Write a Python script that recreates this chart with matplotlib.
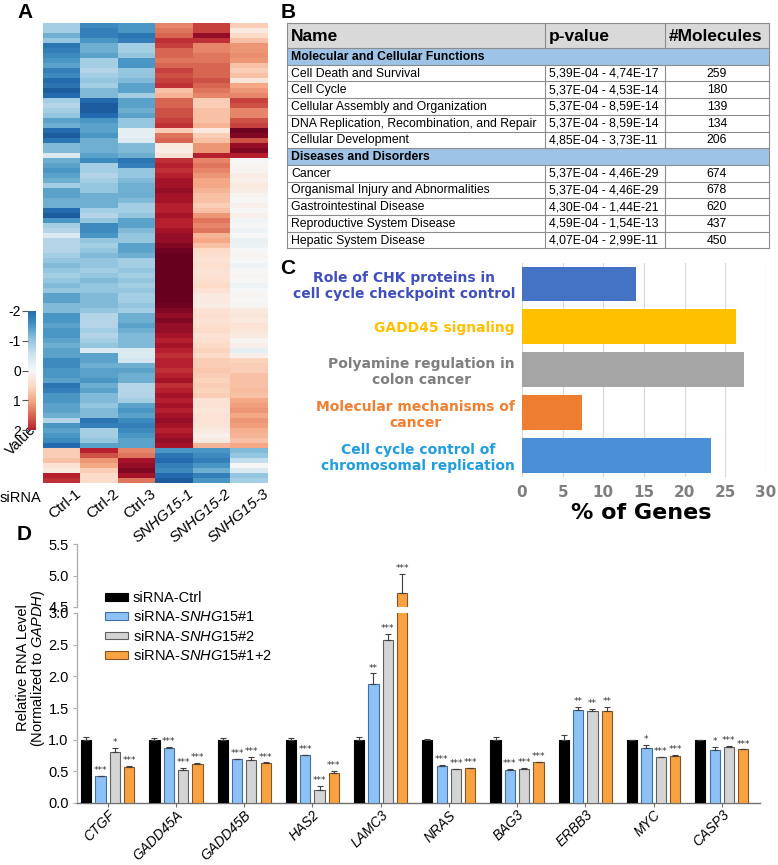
import numpy as np
import matplotlib
matplotlib.use('Agg')
import matplotlib.pyplot as plt
from matplotlib.patches import Rectangle, Patch
from matplotlib.colors import Normalize
from matplotlib.transforms import offset_copy

plt.rcParams['font.family'] = ['Liberation Sans', 'DejaVu Sans']
plt.rcParams['mathtext.fontset'] = 'custom'
plt.rcParams['mathtext.rm'] = 'Liberation Sans'
plt.rcParams['mathtext.it'] = 'Liberation Sans:italic'
plt.rcParams['mathtext.bf'] = 'Liberation Sans:bold'

# ---------------- data ----------------
hm_labels = ['Ctrl-1', 'Ctrl-2', 'Ctrl-3', 'SNHG15-1', 'SNHG15-2', 'SNHG15-3']
ctrl1 = [-0.7,-0.7,-1.0,-0.8,-1.5,-1.4,-1.3,-1.2,-1.1,-1.4,
         -1.3,-1.6,-1.5,-1.7,-1.6,-0.7,-0.6,-0.7,-0.8,-1.1,
         -1.0,-1.6,-1.7,-1.5,-0.9,-0.9,-0.3,-1.0,-1.1,-1.2,
         -1.1,-1.0,-0.7,-1.1,-1.1,-1.0,-1.0,-1.6,-1.7,-1.2,
         -0.7,-0.6,-0.3,-0.6,-0.6,-0.6,-0.7,-0.8,-0.9,-0.8,
         -0.7,-0.8,-0.9,-0.8,-1.1,-1.1,-0.9,-0.9,-1.2,-1.2,
         -1.1,-1.2,-1.2,-1.1,-1.0,-1.1,-1.1,-1.3,-1.3,-1.2,
         -1.2,-1.1,-1.5,-1.4,-1.2,-1.2,-1.1,-1.1,-1.0,-0.6,
         -1.2,-1.1,-1.2,-1.3,-1.6,
         0.5,0.5,0.6,0.3,0.2,1.6,1.5]
ctrl2 = [-1.3,-1.4,-1.4,-1.2,-1.0,-1.0,-1.1,-0.7,-0.7,-0.6,
         -0.7,-0.8,-0.7,-0.9,-0.9,-1.6,-1.7,-1.7,-1.6,-1.2,
         -1.1,-1.1,-1.2,-1.0,-1.0,-1.0,-1.1,-1.3,-0.7,-0.7,
         -0.6,-0.7,-0.8,-0.8,-1.0,-1.0,-1.0,-0.7,-0.6,-0.8,
         -1.3,-1.3,-1.2,-0.8,-0.7,-0.8,-0.9,-0.8,-0.8,-0.7,
         -0.8,-0.9,-0.8,-0.8,-0.9,-0.9,-0.9,-0.8,-0.6,-0.6,
         -0.6,-0.7,-0.6,-0.7,-0.8,-0.3,-1.1,-1.1,-1.0,-1.1,
         -1.1,-1.2,-1.0,-1.1,-0.9,-0.9,-0.8,-0.9,-0.9,-1.5,
         -1.4,-0.7,-0.7,-0.8,-1.1,
         1.6,1.3,0.9,0.8,0.5,0.4,0.4]
ctrl3 = [-1.2,-1.2,-1.5,-1.4,-0.7,-0.7,-0.8,-1.2,-1.2,-0.8,
         -0.8,-0.9,-1.1,-1.1,-0.7,-1.1,-1.1,-1.0,-1.1,-0.8,
         -0.8,-0.2,-0.2,-0.3,-0.9,-0.9,-1.0,-1.5,-1.4,-0.8,
         -0.8,-0.9,-1.0,-1.0,-1.0,-0.9,-0.7,-0.7,-0.8,-1.1,
         -1.1,-0.9,-0.8,-0.8,-1.1,-1.1,-1.0,-0.7,-0.7,-0.8,
         -0.7,-0.8,-0.7,-0.8,-0.7,-0.7,-0.8,-0.7,-1.0,-1.0,
         -1.1,-1.0,-0.9,-0.9,-0.9,-0.3,-0.3,-0.4,-1.0,-1.1,
         -1.0,-1.0,-0.6,-0.6,-0.6,-0.7,-1.1,-1.2,-1.1,-1.3,
         -1.4,-1.3,-1.2,-1.1,-1.1,
         1.0,1.1,1.7,1.8,1.9,1.7,1.1]
snhg1 = [1.0,1.1,1.2,1.5,1.4,1.2,1.2,1.1,1.2,1.4,
         1.3,1.4,1.5,0.6,0.7,1.2,1.2,1.3,1.3,1.4,
         1.5,0.5,1.1,1.2,0.2,0.15,0.3,1.5,1.6,1.5,
         1.6,1.7,1.7,1.8,1.7,1.7,1.6,1.6,1.7,1.6,
         1.6,1.7,1.8,1.8,1.9,2.0,2.1,2.1,2.2,2.1,
         2.2,2.2,2.1,2.2,2.2,2.1,2.0,1.9,1.8,1.9,
         1.8,1.8,1.7,1.6,1.7,1.6,1.5,1.6,1.6,1.5,
         1.6,1.7,1.5,1.6,1.7,1.6,1.7,1.6,1.7,1.8,
         1.7,1.6,1.7,1.8,1.7,
         -1.2,-1.5,-1.6,-1.4,-1.3,-1.6,-1.7]
snhg2 = [1.4,1.4,1.8,1.5,1.0,1.0,1.1,1.1,1.2,1.2,
         1.2,1.3,1.2,1.1,1.0,0.5,0.5,0.6,0.6,0.6,
         0.7,0.2,0.5,0.6,0.9,0.9,1.6,1.0,1.1,1.0,
         0.9,0.8,0.8,0.7,0.6,0.6,0.5,0.6,0.9,1.1,
         1.0,1.1,0.7,0.8,0.6,0.4,0.35,0.3,0.35,0.3,
         0.3,0.35,0.4,0.3,0.2,0.2,0.15,0.3,0.35,0.3,
         0.35,0.4,0.3,0.35,0.4,0.45,0.4,0.5,0.5,0.55,
         0.5,0.45,0.5,0.45,0.5,0.3,0.3,0.25,0.3,0.3,
         0.25,0.2,0.1,0.2,0.7,
         -1.2,-1.3,-1.4,-1.2,-1.0,-1.4,-1.2]
snhg3 = [0.5,0.2,0.4,0.6,0.9,0.9,0.95,0.9,0.6,0.5,
         0.6,0.25,0.8,0.9,1.0,1.4,1.3,1.0,1.0,1.3,
         1.4,2.0,1.9,1.3,1.8,1.9,1.6,0.0,0.05,0.05,
         0.15,0.1,0.2,0.15,0.05,0.0,0.1,0.0,0.1,-0.05,
         0.0,-0.1,0.0,-0.15,-0.1,0.0,0.05,0.0,-0.1,0.0,
         0.05,0.0,-0.1,0.0,0.05,0.0,0.05,0.2,0.25,0.2,
         0.3,0.25,0.2,0.05,0.1,-0.2,0.1,0.45,0.5,0.5,
         0.6,0.6,0.6,0.65,0.6,0.8,0.85,0.9,0.8,0.9,
         0.85,0.75,0.7,0.6,0.8,
         -0.9,-0.8,-0.5,0.0,-0.3,-0.8,-0.7]
cbar_ticks = [-2, -1, 0, 1, 2]

tbl_header = ['Name', 'p-value', '#Molecules']
tbl_sections = ['Molecular and Cellular Functions', 'Diseases and Disorders']
tbl_names = [['Cell Death and Survival', 'Cell Cycle', 'Cellular Assembly and Organization',
              'DNA Replication, Recombination, and Repair', 'Cellular Development'],
             ['Cancer', 'Organismal Injury and Abnormalities', 'Gastrointestinal Disease',
              'Reproductive System Disease', 'Hepatic System Disease']]
tbl_pvals = [['5,39E-04 - 4,74E-17', '5,37E-04 - 4,53E-14', '5,37E-04 - 8,59E-14',
              '5,37E-04 - 8,59E-14', '4,85E-04 - 3,73E-11'],
             ['5,37E-04 - 4,46E-29', '5,37E-04 - 4,46E-29', '4,30E-04 - 1,44E-21',
              '4,59E-04 - 1,54E-13', '4,07E-04 - 2,99E-11']]
tbl_mols = [['259', '180', '139', '134', '206'], ['674', '678', '620', '437', '450']]

pathways = ['Role of CHK proteins in\ncell cycle checkpoint control', 'GADD45 signaling',
            'Polyamine regulation in\ncolon cancer', 'Molecular mechanisms of\ncancer',
            'Cell cycle control of\nchromosomal replication']
pct_genes = [14.0, 26.3, 27.3, 7.4, 23.2]
c_ticks = [0, 5, 10, 15, 20, 25, 30]

genes = ['CTGF', 'GADD45A', 'GADD45B', 'HAS2', 'LAMC3', 'NRAS', 'BAG3', 'ERBB3', 'MYC', 'CASP3']
series_names = ['siRNA-Ctrl', 'siRNA-$\\mathit{SNHG15}$#1', 'siRNA-$\\mathit{SNHG15}$#2',
                'siRNA-$\\mathit{SNHG15}$#1+2']
ctrl_vals = [1.0, 1.0, 1.0, 1.0, 1.0, 1.0, 1.0, 1.0, 1.0, 1.0]
ctrl_err = [0.04, 0.02, 0.02, 0.02, 0.05, 0.01, 0.05, 0.07, 0.0, 0.0]
si1_vals = [0.42, 0.87, 0.69, 0.755, 1.875, 0.59, 0.52, 1.47, 0.87, 0.83]
si1_err = [0.01, 0.01, 0.01, 0.01, 0.17, 0.01, 0.01, 0.05, 0.04, 0.05]
si2_vals = [0.81, 0.52, 0.68, 0.21, 2.575, 0.53, 0.54, 1.45, 0.73, 0.89]
si2_err = [0.06, 0.04, 0.05, 0.06, 0.10, 0.01, 0.02, 0.04, 0.0, 0.01]
si12_vals = [0.57, 0.62, 0.63, 0.47, 4.73, 0.55, 0.64, 1.45, 0.745, 0.845]
si12_err = [0.01, 0.01, 0.01, 0.03, 0.29, 0.01, 0.01, 0.07, 0.01, 0.0]
ctrl_stars = ['', '', '', '', '', '', '', '', '', '']
si1_stars = ['***', '***', '***', '***', '**', '***', '***', '**', '*', '*']
si2_stars = ['*', '***', '***', '***', '***', '***', '***', '**', '***', '***']
si12_stars = ['***', '***', '***', '***', '***', '***', '***', '**', '***', '***']
d_low_ticks = [0.0, 0.5, 1.0, 1.5, 2.0, 2.5, 3.0]
d_high_ticks = [4.5, 5.0, 5.5]

# ---------------- figure ----------------
W, H = 778, 865
fig = plt.figure(figsize=(W / 100, H / 100), dpi=100)


def box(x0, y0, x1, y1):
    return [x0 / W, 1 - y1 / H, (x1 - x0) / W, (y1 - y0) / H]


ov = fig.add_axes([0, 0, 1, 1])
ov.set_xlim(0, W)
ov.set_ylim(H, 0)
ov.axis('off')
ov.patch.set_visible(False)

# panel letters
for lt, (px, py) in zip('ABCD', [(17, 13), (281, 12), (280, 269), (17, 535)]):
    ov.text(px, py, lt, fontsize=15, fontweight='bold', ha='left', va='center')

# ---------------- Panel A ----------------
cmap = plt.get_cmap('RdBu_r')
norm = Normalize(-2.05, 2.05)
hm = np.array([ctrl1, ctrl2, ctrl3, snhg1, snhg2, snhg3]).T
axA = fig.add_axes(box(43, 23, 268, 483))
axA.imshow(hm, aspect='auto', cmap=cmap, norm=norm, interpolation='nearest')
axA.set_xticks([])
axA.set_yticks([])
for s in axA.spines.values():
    s.set_visible(False)
tr = offset_copy(axA.transData, fig=fig, x=13, y=-4, units='dots')
for j, lab in enumerate(hm_labels):
    axA.text(j, hm.shape[0] - 0.5, lab, transform=tr, rotation=40, ha='right', va='top',
             rotation_mode='anchor', fontsize=11,
             fontstyle='italic' if lab.startswith('SNHG') else 'normal')
ov.text(0, 498, 'siRNA', fontsize=10.5, ha='left', va='center')

axCB = fig.add_axes(box(28, 311, 36, 430))
grad = np.linspace(-2, 2, 200)[:, None]
axCB.imshow(grad, aspect='auto', cmap=cmap, norm=Normalize(-2.6, 2.6), extent=[0, 1, 2, -2])
axCB.set_xticks([])
axCB.set_yticks(cbar_ticks)
axCB.set_yticklabels([str(t) for t in cbar_ticks])
axCB.tick_params(axis='y', length=4, width=0.8, labelsize=10, pad=1, color='#555555')
for s in axCB.spines.values():
    s.set_visible(False)
ov.text(21, 440, 'Value', rotation=45, fontsize=10.5, ha='center', va='center')

# ---------------- Panel B (table) ----------------
tx = [287, 545, 665, 769]
ty0, hdr_h, row_h = 23, 25, 16.7
line_c = '#8c8c8c'
ov.add_patch(Rectangle((tx[0], ty0), tx[3] - tx[0], hdr_h, facecolor='#d9d9d9',
                       edgecolor='none'))
for k, h in enumerate(tbl_header):
    xx = tx[k] + 4
    ov.text(xx, ty0 + hdr_h / 2 + 1, h, fontsize=12.5, fontweight='bold', ha='left',
            va='center')
y = ty0 + hdr_h
hlines = [ty0, y]
for sec, names, pv, mols in zip(tbl_sections, tbl_names, tbl_pvals, tbl_mols):
    ov.add_patch(Rectangle((tx[0], y), tx[3] - tx[0], row_h, facecolor='#9dc3e6',
                           edgecolor='none'))
    ov.text(tx[0] + 4, y + row_h / 2 + 0.5, sec, fontsize=8.8, fontweight='bold',
            ha='left', va='center')
    y += row_h
    hlines.append(y)
    for nm, p, m in zip(names, pv, mols):
        ov.text(tx[0] + 4, y + row_h / 2 + 0.5, nm, fontsize=8.8, ha='left', va='center')
        ov.text(tx[1] + 4, y + row_h / 2 + 0.5, p, fontsize=8.8, ha='left', va='center')
        ov.text((tx[2] + tx[3]) / 2, y + row_h / 2 + 0.5, m, fontsize=8.8, ha='center',
                va='center')
        y += row_h
        hlines.append(y)
for hy in hlines:
    ov.plot([tx[0], tx[3]], [hy, hy], color=line_c, lw=0.8)
ov.plot([tx[0], tx[0]], [ty0, y], color=line_c, lw=0.8)
ov.plot([tx[3], tx[3]], [ty0, y], color=line_c, lw=0.8)
segs = [(ty0, ty0 + hdr_h), (ty0 + hdr_h + row_h, ty0 + hdr_h + 6 * row_h),
        (ty0 + hdr_h + 7 * row_h, y)]
for xc in tx[1:3]:
    for a, b in segs:
        ov.plot([xc, xc], [a, b], color=line_c, lw=0.8)

# ---------------- Panel C ----------------
lab_colors = ['#3f4fc0', '#ffc000', '#7f7f7f', '#f07f30', '#1e9ee0']
bar_colors = ['#4472c4', '#ffc000', '#a5a5a5', '#ed7d31', '#4a8fd6']
axC = fig.add_axes(box(522, 262.5, 766, 477))
ypos = np.arange(len(pathways))
axC.barh(ypos, pct_genes, height=0.81, color=bar_colors, zorder=3)
axC.set_ylim(len(pathways) - 0.5, -0.5)
axC.set_xlim(0, 30)
axC.set_xticks(c_ticks)
axC.set_xticklabels([str(t) for t in c_ticks], fontfamily='DejaVu Sans', fontweight='bold',
                    fontsize=11, color='#7f7f7f')
axC.xaxis.grid(True, color='#d9d9d9', lw=0.9, zorder=0)
axC.set_axisbelow(True)
axC.tick_params(axis='x', length=0, pad=6)
axC.set_yticks(ypos)
axC.set_yticklabels(pathways, fontfamily='DejaVu Sans', fontweight='bold', fontsize=10,
                    linespacing=1.15)
for lbl, c in zip(axC.get_yticklabels(), lab_colors):
    lbl.set_color(c)
    lbl.set_multialignment('center')
axC.tick_params(axis='y', length=0, pad=5)
for s in axC.spines.values():
    s.set_visible(False)
ov.text(641, 513, '% of Genes', fontfamily='DejaVu Sans', fontweight='bold', fontsize=16,
        ha='center', va='center')

# ---------------- Panel D ----------------
axD = fig.add_axes(box(77, 613, 760, 803))
axT = fig.add_axes(box(77, 544, 760, 607))
vals = [ctrl_vals, si1_vals, si2_vals, si12_vals]
errs = [ctrl_err, si1_err, si2_err, si12_err]
stars = [ctrl_stars, si1_stars, si2_stars, si12_stars]
faces = ['#000000', '#8ec1f5', '#d4d4d4', '#f9a242']
edges = ['#000000', '#3d6fa8', '#606060', '#8a5520']
offsets = [-0.315, -0.105, 0.105, 0.315]
xg = np.arange(len(genes))
for ax in (axD, axT):
    for k in range(4):
        e = np.array(errs[k])
        ax.bar(xg + offsets[k], vals[k], width=0.15, color=faces[k], edgecolor=edges[k],
               linewidth=0.8, yerr=[np.zeros_like(e), e],
               error_kw=dict(ecolor='#404040', elinewidth=0.8, capsize=2, capthick=0.8),
               zorder=3)
for k in range(4):
    for i in range(len(genes)):
        if not stars[k][i]:
            continue
        top = vals[k][i] + errs[k][i]
        ax = axT if top > 3.0 else axD
        ax.text(xg[i] + offsets[k], top + 0.015, stars[k][i], ha='center', va='bottom',
                fontsize=6.5, color='#333333', fontfamily='DejaVu Sans')
axD.set_ylim(0, 3.0)
axT.set_ylim(4.5, 5.5)
for ax in (axD, axT):
    ax.set_xlim(-0.45, len(genes) - 0.44)
    ax.spines['top'].set_visible(False)
    ax.spines['right'].set_visible(False)
    ax.spines['left'].set_color('#b0b0b0')
    ax.spines['left'].set_linewidth(1.0)
    ax.tick_params(axis='y', length=3, color='#b0b0b0', labelsize=10.5, pad=3)
axD.set_yticks(d_low_ticks)
axD.set_yticklabels(['%.1f' % t for t in d_low_ticks])
axT.set_yticks(d_high_ticks)
axT.set_yticklabels(['%.1f' % t for t in d_high_ticks])
axT.spines['bottom'].set_visible(False)
axT.set_xticks([])
axD.spines['bottom'].set_color('#707070')
axD.spines['bottom'].set_linewidth(1.0)
axD.set_xticks(xg)
axD.set_xticklabels(genes, rotation=45, ha='right', va='top', rotation_mode='anchor',
                    fontstyle='italic', fontsize=9.8)
axD.tick_params(axis='x', length=3, color='#707070', pad=0.5)

ov.text(23, 668, 'Relative RNA Level', rotation=90, fontsize=10.5, ha='center',
        va='center')
ov.text(38, 668, '(Normalized to $\\mathit{GAPDH}$)', rotation=90, fontsize=10.5,
        ha='center', va='center')

handles = [Patch(facecolor=f, edgecolor=e, linewidth=0.8) for f, e in zip(faces, edges)]
fig.legend(handles, series_names, loc='upper left', bbox_to_anchor=(105 / W, 1 - 591 / H),
           frameon=False, fontsize=10.5, handlelength=1.6, handleheight=0.45,
           labelspacing=0.3, handletextpad=0.3, borderpad=0, borderaxespad=0)

fig.savefig('out.png', dpi=100)
